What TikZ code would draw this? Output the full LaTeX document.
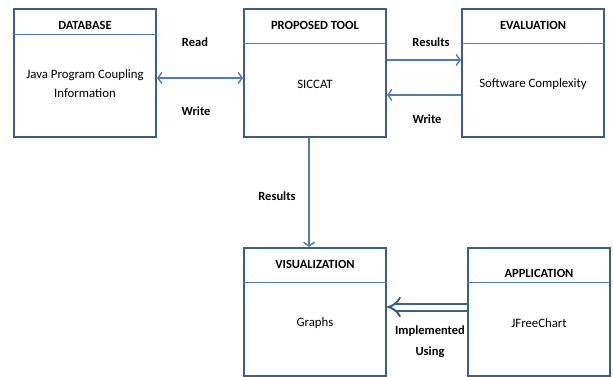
\documentclass[tikz,border=0pt]{standalone}
\usepackage{fontspec}
\setmainfont{Carlito}
\usetikzlibrary{positioning,arrows.meta,calc}
\definecolor{boxblue}{HTML}{3A5F8F}
\definecolor{linkblue}{HTML}{4A7EBB}
\tikzset{
  modbox/.style={draw=boxblue,line width=2pt,minimum width=142pt,
    minimum height=128pt,inner sep=0pt},
  modtitle/.style={font=\fontsize{12.5}{14}\selectfont\bfseries},
  modtext/.style={font=\fontsize{12.8}{19}\selectfont,align=center},
  divline/.style={draw=linkblue,line width=0.7pt},
  barb/.tip={Straight Barb[length=4pt,width=11pt]},
  flow/.style={-barb,draw=linkblue,line width=1.4pt},
  flowboth/.style={barb-barb,draw=linkblue,line width=1.4pt},
  flowlbl/.style={font=\fontsize{12.5}{21}\selectfont\bfseries,align=center},
  bigflow/.style={-{Implies},draw=boxblue,double=white,double distance=5pt,
    line width=2pt},
}
\begin{document}
\begin{tikzpicture}[x=1pt,y=-1pt]
  \useasboundingbox (0,0) rectangle (613,377);
  % boxes
  \node[modbox] (db)   at (85,73)  {};
  \node[modbox] (tool) at (315,73) {};
  \node[modbox] (eval) at (533,73) {};
  \node[modbox] (vis)  at (315,312) {};
  \node[modbox] (app)  at (539,312) {};
  % titles and dividers
  \node[modtitle] (dbtitle)   at (85,25)  {DATABASE};
  \node[modtitle] (tooltitle) at (315,25) {PROPOSED TOOL};
  \node[modtitle] (evaltitle) at (533,25) {EVALUATION};
  \node[modtitle] (vistitle)  at (315,264) {VISUALIZATION};
  \node[modtitle] (apptitle)  at (539,273) {APPLICATION};
  \draw[divline] (db.west |- 0,34) -- (db.east |- 0,34);
  \draw[divline] (tool.west |- 0,43) -- (tool.east |- 0,43);
  \draw[divline] (eval.west |- 0,43) -- (eval.east |- 0,43);
  \draw[divline] (vis.west |- 0,282) -- (vis.east |- 0,282);
  \draw[divline] (app.west |- 0,282) -- (app.east |- 0,282);
  % contents
  \node[modtext] (dbtext)   at (85,84)  {Java Program Coupling\\Information};
  \node[modtext] (tooltext) at (315,84) {SICCAT};
  \node[modtext] (evaltext) at (533,84) {Software Complexity};
  \node[modtext] (vistext)  at (315,323) {Graphs};
  \node[modtext] (apptext)  at (539,323) {JFreeChart};
  % connectors
  \draw[flowboth] ([yshift=-5pt]db.east) -- ([yshift=-5pt]tool.west);
  \draw[flow] ([yshift=13pt]tool.east) -- ([yshift=13pt]eval.west);
  \draw[flow] ([yshift=-22pt]eval.west) -- ([yshift=-22pt]tool.east);
  \draw[flow] ([xshift=-6pt]tool.south) -- ([xshift=-6pt]vis.north);
  \draw[bigflow] ([yshift=5pt]app.west) -- ([yshift=5pt]vis.east);
  % labels
  \node[flowlbl] (readlbl)    at (195,42)  {Read};
  \node[flowlbl] (writelbl)   at (196,111) {Write};
  \node[flowlbl] (reslbl)     at (431,42)  {Results};
  \node[flowlbl] (writeback)  at (427,119) {Write};
  \node[flowlbl] (visreslbl)  at (277,196) {Results};
  \node[flowlbl] (impllbl)    at (430,342) {Implemented\\Using};
\end{tikzpicture}
\end{document}
